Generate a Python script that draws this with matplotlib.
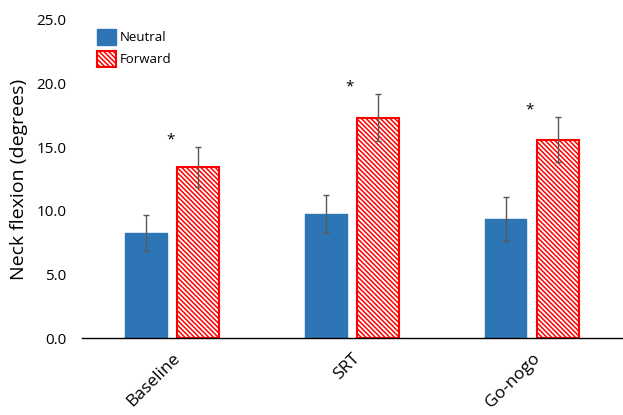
import matplotlib
matplotlib.use("Agg")
import matplotlib.pyplot as plt
import numpy as np
from matplotlib.patches import Patch

categories = ["Baseline", "SRT", "Go-nogo"]
neutral = [8.25, 9.75, 9.35]
neutral_err = [1.45, 1.5, 1.7]
forward = [13.45, 17.3, 15.6]
forward_err = [1.55, 1.85, 1.75]
star_y = [15.6, 19.7, 17.9]
yticks = [0, 5, 10, 15, 20, 25]

plt.rcParams['font.family'] = ['Open Sans', 'DejaVu Sans']
plt.rcParams['hatch.linewidth'] = 1.1
plt.rcParams['hatch.color'] = '#FF0000'

fig = plt.figure(figsize=(6.23, 4.15), dpi=100)
ax = fig.add_axes([0.1316, 0.1855, 0.866, 0.7665])

x = np.arange(len(categories))
w = 0.233
off = 0.145
hatch = '\\' * 7
ax.bar(x - off, neutral, w, color='#2E75B6', edgecolor='#2E75B6', zorder=2)
ax.bar(x + off, forward, w, color='white', edgecolor='#FF0000', linewidth=1.5,
       hatch=hatch, zorder=2)
ax.errorbar(x - off, neutral, yerr=neutral_err, fmt='none', ecolor='#595959',
            elinewidth=1.0, capsize=2.5, capthick=1.0, zorder=3)
ax.errorbar(x + off, forward, yerr=forward_err, fmt='none', ecolor='#595959',
            elinewidth=1.0, capsize=2.5, capthick=1.0, zorder=3)
for xi, sy in zip(x, star_y):
    ax.text(xi - 0.01, sy, '*', ha='center', va='center', fontsize=11, color='black')

ax.set_xlim(-0.5, 2.5)
ax.set_ylim(0, 25)
ax.set_yticks(yticks)
ax.set_yticklabels([f"{v:.1f}" for v in yticks], fontsize=11)
ax.set_xticks(x)
ax.set_xticklabels(categories, rotation=45, ha='right', rotation_mode='anchor', fontsize=12.5)
ax.tick_params(axis='y', length=0, pad=11)
ax.tick_params(axis='x', length=0, pad=9)
for s in ['top', 'right', 'left']:
    ax.spines[s].set_visible(False)
ax.spines['bottom'].set_color('black')
ax.spines['bottom'].set_linewidth(1.0)
ax.set_ylabel('Neck flexion (degrees)', fontsize=14, labelpad=6)

handles = [Patch(facecolor='#2E75B6', edgecolor='#2E75B6', label='Neutral'),
           Patch(facecolor='white', edgecolor='#FF0000', hatch=hatch, linewidth=1.5, label='Forward')]
ax.legend(handles=handles, loc='upper left', bbox_to_anchor=(0.006, 1.01), frameon=False,
          fontsize=9.5, handlelength=1.4, handleheight=1.5, handletextpad=0.3, labelspacing=0.45)

fig.savefig('out.png', dpi=100)
